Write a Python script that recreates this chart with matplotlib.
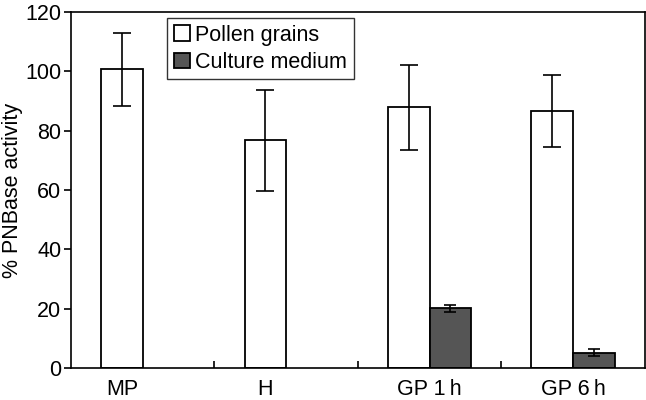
import numpy as np
import matplotlib.pyplot as plt
from matplotlib.ticker import FixedLocator

plt.rcParams['font.family'] = ['Liberation Sans', 'DejaVu Sans']

# Data
categories = ["MP", "H", "GP 1\u2009h", "GP 6\u2009h"]
pollen = [100.7, 76.8, 87.9, 86.6]
pollen_err = [12.3, 17.0, 14.3, 12.2]
culture = [np.nan, np.nan, 20.1, 5.2]
culture_err = [np.nan, np.nan, 1.2, 1.25]

x = np.arange(len(categories))
w = 0.29

fig = plt.figure(figsize=(6.46, 4.0), dpi=100)
ax = fig.add_axes([0.110, 0.08, 0.888, 0.89])

ax.bar(x - w / 2, pollen, w, color="white", edgecolor="black", linewidth=1.3,
       label="Pollen grains", zorder=2)
ax.bar(x + w / 2, culture, w, color="#555555", edgecolor="black", linewidth=1.3,
       label="Culture medium", zorder=2)
ax.errorbar(x - w / 2, pollen, yerr=pollen_err, fmt="none", ecolor="black",
            elinewidth=1.2, capsize=6.5, capthick=1.2, zorder=3)
ax.errorbar(x + w / 2, culture, yerr=culture_err, fmt="none", ecolor="black",
            elinewidth=1.2, capsize=4.3, capthick=1.2, zorder=3)

ax.set_xlim(-0.5, 3.5)
ax.set_ylim(0, 120)
ax.set_yticks(range(0, 121, 20))

# labels centred on the pollen bar where no culture bar exists
label_pos = [xi - w / 2 if np.isnan(c) else xi for xi, c in zip(x, culture)]
ax.set_xticks(label_pos)
ax.set_xticklabels(categories)
ax.xaxis.set_minor_locator(FixedLocator([0.5, 1.5, 2.5]))
ax.tick_params(axis="x", which="major", length=0, pad=8, labelsize=15.5)
ax.tick_params(axis="x", which="minor", direction="in", length=5, width=1.2)
ax.tick_params(axis="y", direction="out", length=5, width=1.2, labelsize=15.5, pad=2)

for s in ax.spines.values():
    s.set_linewidth(1.2)

ax.set_ylabel("% PNBase activity", fontsize=15.5)
ax.yaxis.set_label_coords(-0.083, 0.5)

leg = ax.legend(loc="upper left", bbox_to_anchor=(0.168, 0.983), fontsize=15.5,
                frameon=True, fancybox=False, edgecolor="black",
                handlelength=0.75, handleheight=0.75, handletextpad=0.25,
                labelspacing=0.3, borderpad=0.3, borderaxespad=0)
leg.get_frame().set_linewidth(1.0)

fig.savefig("out.png", dpi=100)
